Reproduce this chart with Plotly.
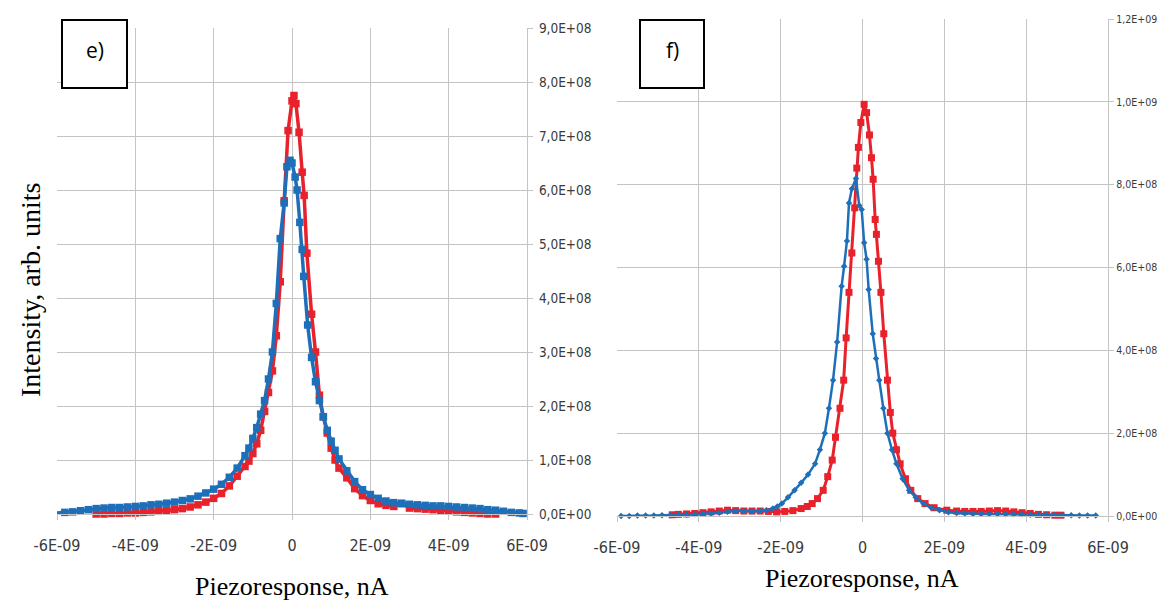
import plotly.graph_objects as go

# ---------------- data (x in units of 1e-9, y in units of 1e8) ----------------
# panel e) red
e_red_x = [-5.0,-4.8,-4.6,-4.4,-4.2,-4.0,-3.8,-3.6,-3.4,-3.2,-3.0,-2.8,-2.6,-2.4,-2.2,-2.0,-1.8,-1.6,-1.4,
           -1.2,-1.1,-1.0,-0.9,-0.8,-0.7,-0.6,-0.5,-0.4,-0.3,-0.2,-0.1,0.0,0.05,0.1,0.18,0.26,0.31,0.38,
           0.5,0.6,0.7,0.8,0.9,1.0,1.1,1.2,1.4,1.6,1.8,2.0,2.2,2.4,2.6,2.8,3.0,3.2,3.4,3.6,3.8,4.0,4.2,
           4.4,4.6,4.8,5.0,5.2,5.4]
e_red_y = [0.00,0.00,0.01,0.01,0.02,0.02,0.03,0.04,0.05,0.06,0.08,0.10,0.13,0.17,0.22,0.29,0.38,0.52,0.70,
           0.88,0.98,1.12,1.30,1.55,1.90,2.25,2.65,3.30,4.30,5.80,7.10,7.65,7.75,7.60,7.07,6.33,5.90,4.83,
           3.70,3.00,2.20,1.80,1.50,1.22,1.00,0.85,0.67,0.47,0.34,0.25,0.19,0.16,0.14,0.20,0.11,0.10,0.09,
           0.08,0.06,0.05,0.04,0.03,0.02,0.01,0.00,0.00,-0.01]
# panel e) blue
e_blue_x = [-6.0,-5.8,-5.6,-5.4,-5.2,-5.0,-4.8,-4.6,-4.4,-4.2,-4.0,-3.8,-3.6,-3.4,-3.2,-3.0,-2.8,-2.6,-2.4,
            -2.2,-2.0,-1.8,-1.6,-1.4,-1.2,-1.1,-1.0,-0.9,-0.8,-0.7,-0.6,-0.5,-0.4,-0.3,-0.2,-0.13,-0.05,0.0,
            0.08,0.13,0.2,0.26,0.3,0.4,0.5,0.6,0.7,0.8,0.9,1.0,1.1,1.2,1.4,1.6,1.8,2.0,2.2,2.4,2.6,2.8,3.0,
            3.2,3.4,3.6,3.8,4.0,4.2,4.4,4.6,4.8,5.0,5.2,5.4,5.6,5.8,5.9]
e_blue_y = [0.02,0.03,0.04,0.06,0.08,0.10,0.11,0.12,0.12,0.13,0.14,0.15,0.17,0.18,0.20,0.22,0.25,0.28,0.33,
            0.39,0.46,0.55,0.68,0.85,1.08,1.22,1.40,1.60,1.85,2.10,2.50,3.00,3.90,5.10,5.76,6.43,6.55,6.50,
            6.24,6.00,5.40,4.90,4.40,3.50,2.90,2.45,2.10,1.80,1.55,1.35,1.18,1.02,0.80,0.60,0.45,0.36,0.29,
            0.24,0.21,0.19,0.18,0.17,0.16,0.15,0.15,0.14,0.13,0.12,0.11,0.10,0.08,0.07,0.05,0.03,0.02,0.01]

# panel f) red
f_red_x = [-4.65,-4.5,-4.3,-4.1,-3.9,-3.7,-3.5,-3.3,-3.1,-2.9,-2.7,-2.5,-2.3,-2.1,-1.9,-1.7,-1.5,-1.35,-1.23,
           -1.1,-0.96,-0.85,-0.74,-0.66,-0.55,-0.46,-0.4,-0.33,-0.26,-0.19,-0.14,-0.1,-0.04,0.04,0.1,0.17,
           0.22,0.26,0.31,0.34,0.39,0.45,0.52,0.61,0.68,0.74,0.83,0.92,1.05,1.18,1.35,1.53,1.75,2.06,2.3,
           2.5,2.7,2.9,3.1,3.3,3.5,3.7,3.9,4.1,4.3,4.5,4.7,4.85]
f_red_y = [0.03,0.04,0.05,0.06,0.08,0.10,0.12,0.14,0.13,0.12,0.12,0.12,0.11,0.10,0.11,0.13,0.18,0.23,0.30,
           0.42,0.62,0.95,1.35,1.90,2.60,3.28,4.30,5.40,6.35,7.44,8.40,8.90,9.50,9.94,9.74,9.20,
           8.65,8.13,7.16,6.80,6.15,5.40,4.40,3.28,2.50,2.00,1.60,1.26,0.90,0.62,0.42,0.30,0.20,0.14,0.12,
           0.11,0.11,0.11,0.12,0.13,0.12,0.10,0.08,0.06,0.04,0.03,0.02,0.02]
# panel f) blue
f_blue_x = [-5.9,-5.7,-5.5,-5.3,-5.1,-4.9,-4.7,-4.5,-4.3,-4.1,-3.9,-3.7,-3.5,-3.3,-3.1,-2.9,-2.7,-2.5,-2.35,
            -2.19,-2.08,-1.97,-1.82,-1.66,-1.5,-1.33,-1.16,-1.04,-0.92,-0.82,-0.72,-0.62,-0.51,-0.45,-0.38,
            -0.33,-0.26,-0.16,-0.08,-0.02,0.04,0.1,0.15,0.25,0.33,0.41,0.51,0.61,0.72,0.83,0.98,1.14,1.3,
            1.49,1.68,1.88,2.1,2.3,2.5,2.7,2.9,3.1,3.3,3.5,3.7,3.9,4.1,4.3,4.5,4.7,4.9,5.1,5.3,5.5,5.7]
f_blue_y = [0.00,0.00,0.01,0.01,0.01,0.02,0.02,0.03,0.03,0.04,0.05,0.06,0.08,0.10,0.12,0.12,0.11,0.12,0.14,
            0.18,0.23,0.30,0.45,0.62,0.80,1.00,1.26,1.60,2.00,2.60,3.28,4.20,5.55,6.03,6.64,
            7.56,7.90,8.15,7.50,7.40,6.60,6.20,5.47,4.40,3.80,3.28,2.60,2.00,1.60,1.26,0.90,0.62,0.45,
            0.30,0.20,0.14,0.09,0.07,0.06,0.05,0.05,0.05,0.05,0.04,0.04,0.04,0.03,0.03,0.03,0.02,0.02,0.02,0.01,0.01,0.01]

x_tick_vals = [-6, -4, -2, 0, 2, 4, 6]
x_tick_text = ["-6E-09", "-4E-09", "-2E-09", "0", "2E-09", "4E-09", "6E-09"]
e_y_tick_vals = [0, 1, 2, 3, 4, 5, 6, 7, 8, 9]
e_y_tick_text = ["0,0E+00", "1,0E+08", "2,0E+08", "3,0E+08", "4,0E+08", "5,0E+08",
                 "6,0E+08", "7,0E+08", "8,0E+08", "9,0E+08"]
f_y_tick_vals = [0, 2, 4, 6, 8, 10, 12]
f_y_tick_text = ["0,0E+00", "2,0E+08", "4,0E+08", "6,0E+08", "8,0E+08", "1,0E+09", "1,2E+09"]

panel_labels = ["e)", "f)"]
x_title = "Piezoresponse, nA"
y_title = "Intensity, arb. units"

RED = "#E8212B"
BLUE = "#1E6FBA"
GRID = "#C4C4C4"
OFF = 8                            # page body margin
W, H = 1168 - OFF, 608 - 2 * OFF   # figure size (no page overflow)


def PX(px):
    return (px - OFF) / W


def PY(py):
    return (H - (py - OFF)) / H


def sx(v):
    return [a * 1e-9 for a in v]


def sy(v):
    return [a * 1e8 for a in v]


fig = go.Figure()
fig.add_trace(go.Scatter(x=sx(e_red_x), y=sy(e_red_y), xaxis="x", yaxis="y", mode="lines+markers",
                         line=dict(color=RED, width=3.5), marker=dict(symbol="square", size=7.5, color=RED),
                         cliponaxis=False, showlegend=False))
fig.add_trace(go.Scatter(x=sx(e_blue_x), y=sy(e_blue_y), xaxis="x", yaxis="y", mode="lines+markers",
                         line=dict(color=BLUE, width=3.5), marker=dict(symbol="square", size=7.5, color=BLUE),
                         cliponaxis=False, showlegend=False))
fig.add_trace(go.Scatter(x=sx(f_red_x), y=sy(f_red_y), xaxis="x2", yaxis="y2", mode="lines+markers",
                         line=dict(color=RED, width=3), marker=dict(symbol="square", size=7, color=RED),
                         cliponaxis=False, showlegend=False))
fig.add_trace(go.Scatter(x=sx(f_blue_x), y=sy(f_blue_y), xaxis="x2", yaxis="y2", mode="lines+markers",
                         line=dict(color=BLUE, width=2.5), marker=dict(symbol="diamond", size=5, color=BLUE),
                         cliponaxis=False, showlegend=False))

NARROW = "Liberation Sans Narrow, DejaVu Sans Condensed, sans-serif"
tickfont_x = dict(family=NARROW, size=16, color="#3a3a3a")


def xaxis(domain, anchor):
    return dict(domain=domain, anchor=anchor, range=[-6e-9, 6e-9], tickvals=[v * 1e-9 for v in x_tick_vals],
                ticktext=x_tick_text, showgrid=True, gridcolor=GRID, gridwidth=1.4, zeroline=False,
                showline=True, linecolor=GRID, linewidth=1.4, ticks="outside", ticklen=5, tickcolor=GRID,
                ticklabelstandoff=12, tickfont=tickfont_x, fixedrange=True, automargin=False)


def yaxis(domain, anchor, rng, vals, text, fsize, standoff):
    return dict(domain=domain, anchor=anchor, side="right", range=rng, tickvals=[v * 1e8 for v in vals],
                ticktext=text, showgrid=True, gridcolor=GRID, gridwidth=1.4, zeroline=False,
                showline=True, linecolor=GRID, linewidth=1.4, ticks="outside", ticklen=5, tickcolor=GRID,
                ticklabelstandoff=standoff, tickfont=dict(family=NARROW, size=fsize, color="#3a3a3a"),
                fixedrange=True, automargin=False)


# pixel geometry (page pixels)
e_x0, e_x1, e_yt, e_yb = 57, 527, 28, 514
f_x0, f_x1, f_yt, f_yb = 617, 1108, 19, 516

fig.update_layout(
    width=W, height=H, autosize=False,
    margin=dict(l=0, r=0, t=0, b=0, pad=0),
    paper_bgcolor="white", plot_bgcolor="white",
    xaxis=xaxis([PX(e_x0), PX(e_x1)], "y"),
    yaxis=yaxis([PY(e_yb), PY(e_yt)], "x", [0, 9e8], e_y_tick_vals, e_y_tick_text, 13.5, 3),
    xaxis2=xaxis([PX(f_x0), PX(f_x1)], "y2"),
    yaxis2=yaxis([PY(f_yb), PY(f_yt)], "x2", [0, 1.2e9], f_y_tick_vals, f_y_tick_text, 10.5, 0),
)

# label boxes
for (bx0, bx1, lab) in [(62, 127, panel_labels[0]), (640, 704, panel_labels[1])]:
    fig.add_shape(type="rect", xref="paper", yref="paper", x0=PX(bx0), x1=PX(bx1),
                  y0=PY(88), y1=PY(20), line=dict(color="black", width=2),
                  fillcolor="white", layer="above")
    fig.add_annotation(xref="paper", yref="paper", x=PX((bx0 + bx1) / 2), y=PY(50), text=lab,
                       xanchor="center", yanchor="middle", showarrow=False,
                       font=dict(family="Open Sans, Liberation Sans, sans-serif", size=21, color="black"))

fig.add_annotation(xref="paper", yref="paper", x=PX(292), y=PY(586), text=x_title, showarrow=False,
                   xanchor="center", yanchor="middle",
                   font=dict(family="Liberation Serif, Times New Roman, serif", size=26, color="black"))
fig.add_annotation(xref="paper", yref="paper", x=PX(862), y=PY(578), text=x_title, showarrow=False,
                   xanchor="center", yanchor="middle",
                   font=dict(family="Liberation Serif, Times New Roman, serif", size=26, color="black"))
fig.add_annotation(xref="paper", yref="paper", x=PX(30), y=PY(290), text=y_title, showarrow=False,
                   xanchor="center", yanchor="middle", textangle=-90,
                   font=dict(family="Liberation Serif, Times New Roman, serif", size=28, color="black"))

fig.write_html("out.html")
